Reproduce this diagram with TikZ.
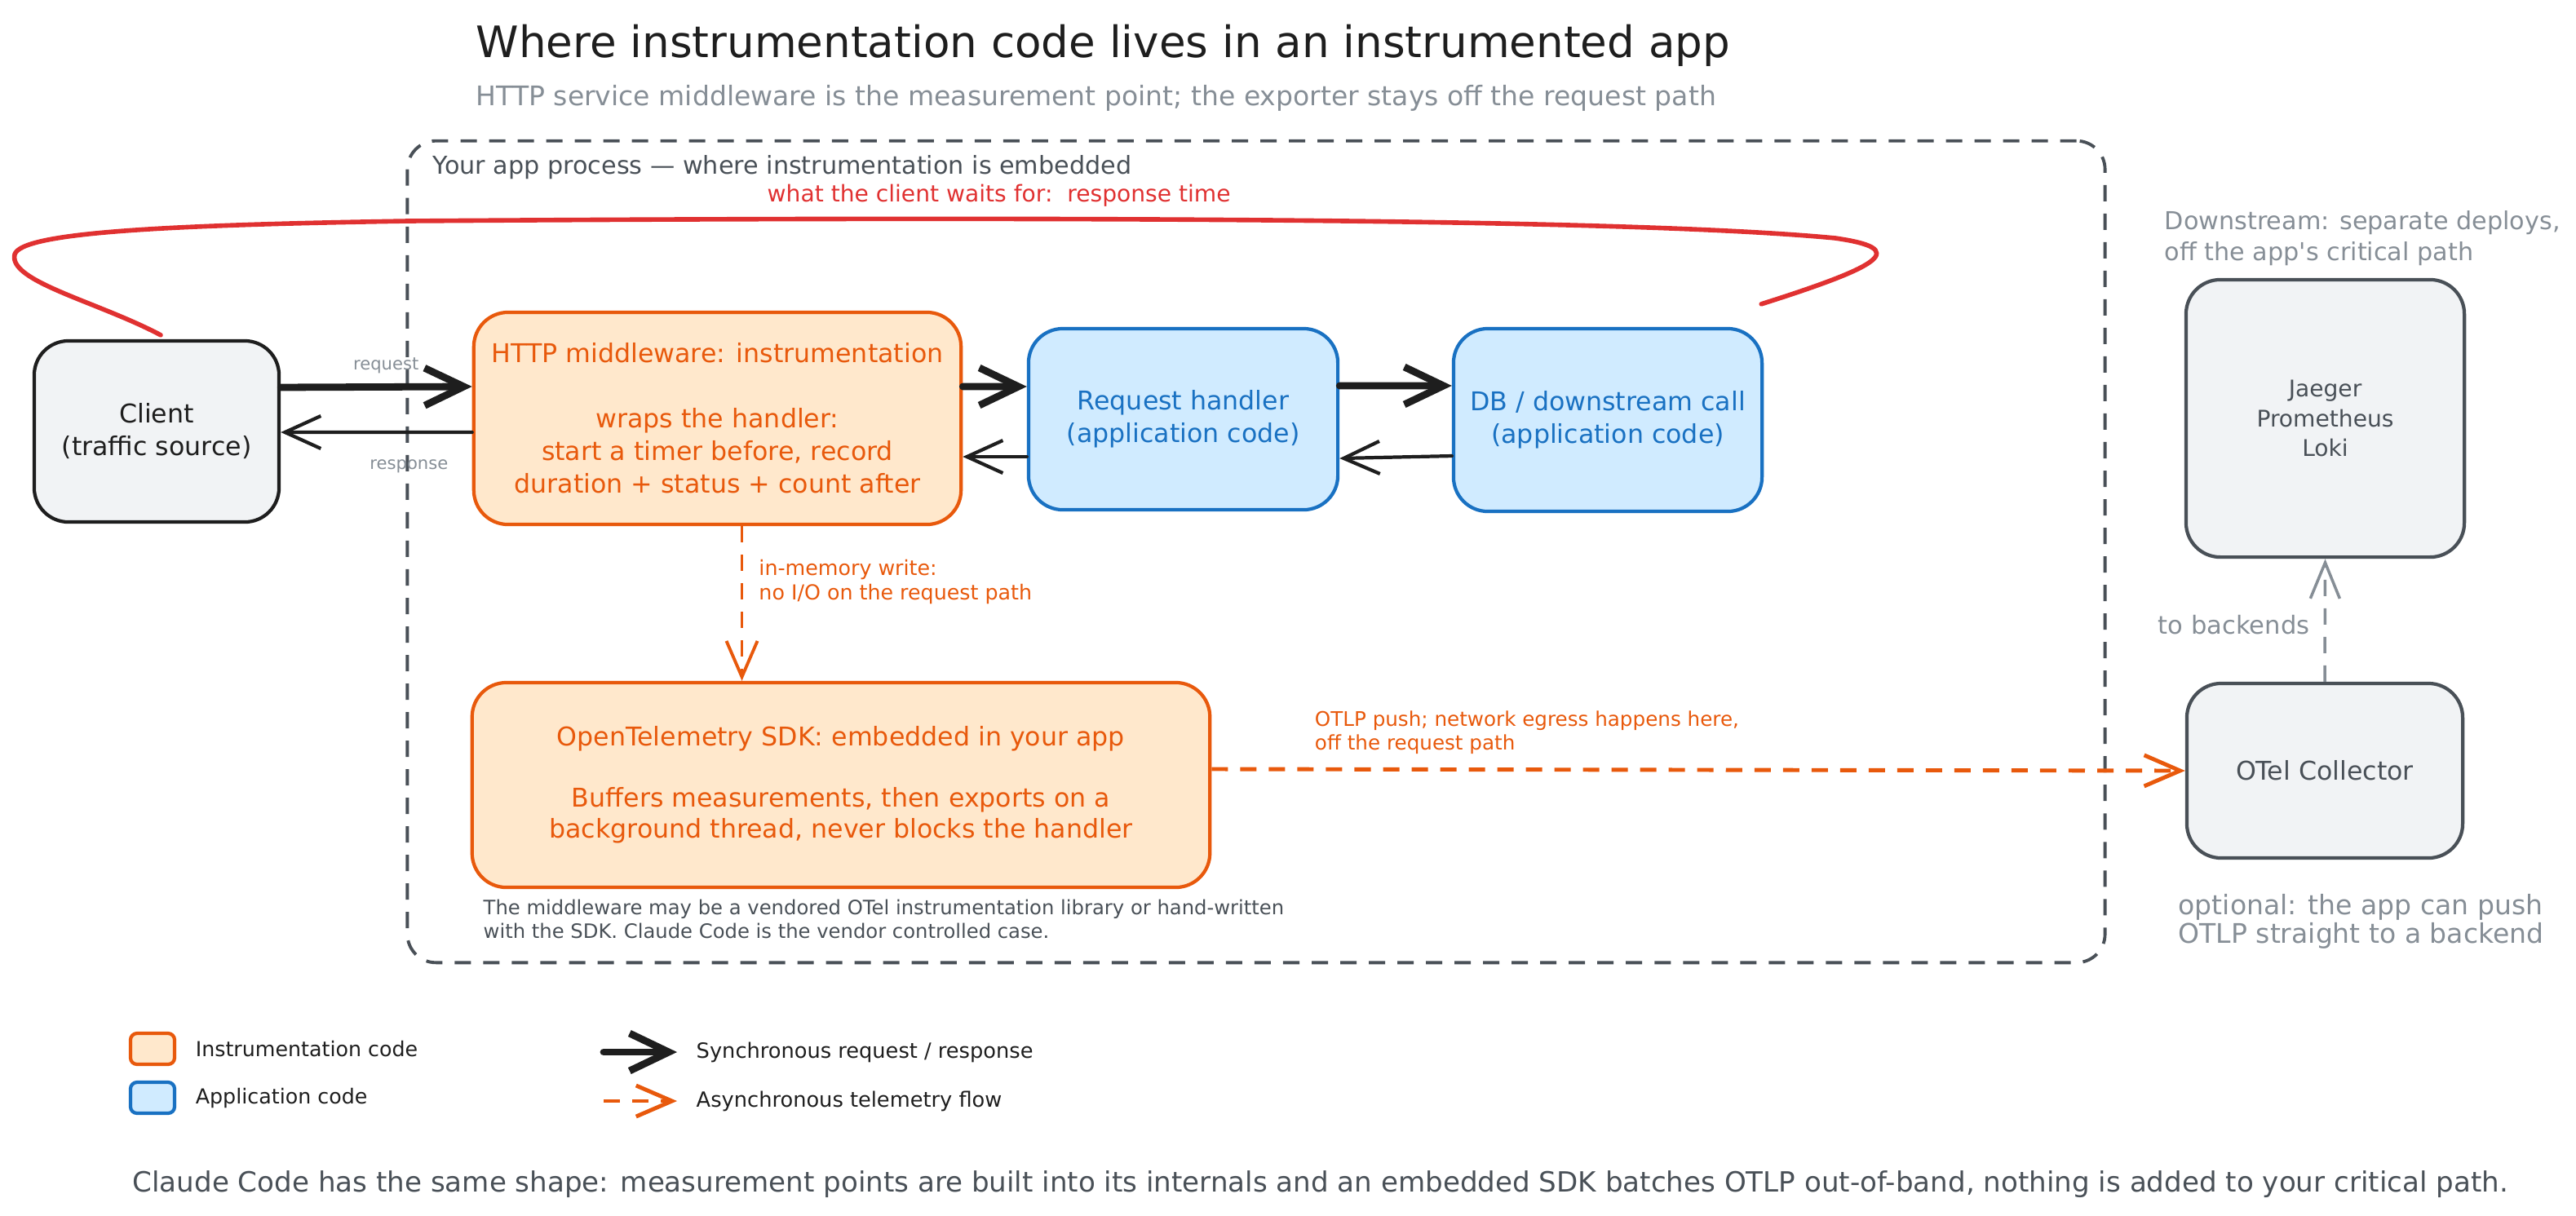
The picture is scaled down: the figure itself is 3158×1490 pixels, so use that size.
\documentclass[tikz,border=0pt]{standalone}
\usepackage{fontspec}
\setmainfont{DejaVu Sans}
\usetikzlibrary{arrows.meta,positioning}
\definecolor{ink}{HTML}{1E1E1E}
\definecolor{slate}{HTML}{495057}
\definecolor{mist}{HTML}{868E96}
\definecolor{paper}{HTML}{F1F3F5}
\definecolor{rust}{HTML}{E8590C}
\definecolor{peach}{HTML}{FFE8CC}
\definecolor{ocean}{HTML}{1971C2}
\definecolor{sky}{HTML}{D0EBFF}
\definecolor{alarm}{HTML}{E03131}
\begin{document}
\begin{tikzpicture}[x=0.01cm, y=-0.01cm, line join=round,
    sized/.style 2 args={font=\fontsize{#1}{#2}\selectfont},
    box/.style={draw, rounded corners=0.42cm, line width=1.2pt, align=center, inner sep=0pt, sized={9}{11.4}},
    instbox/.style={box, draw=rust, fill=peach, text=rust},
    appbox/.style={box, draw=ocean, fill=sky, text=ocean},
    extbox/.style={box, draw=slate, fill=paper, text=slate},
    sync/.style={-{Straight Barb[length=0.48cm, width=0.46cm]}, line width=2.5pt, draw=ink, line cap=round},
    reply/.style={-{Straight Barb[length=0.44cm, width=0.4cm]}, line width=1.2pt, draw=ink, line cap=round},
    async/.style={-{Straight Barb[length=0.44cm, width=0.38cm]}, line width=1.1pt, draw=rust, dash pattern=on 0.2cm off 0.15cm},
    remark/.style={inner sep=0pt, align=left, anchor=west},
    tag/.style={inner sep=0pt, align=left, text=mist, sized={6}{7}}]
  \useasboundingbox (0,0) rectangle (3158,1490);

  \node[remark, sized={15.1}{18}, text=ink] (title) at (583,56) {Where instrumentation code lives in an instrumented app};
  \node[remark, sized={9.4}{11}, text=mist] (subtitle) at (583,120) {HTTP service middleware is the measurement point; the exporter stays off the request path};

  \node[draw=slate, line width=1.1pt, dash pattern=on 0.2cm off 0.15cm, rounded corners=0.35cm,
        minimum width=20.8cm, minimum height=10.07cm, inner sep=0pt] (app) at (1540,676.5) {};
  \node[remark, sized={8.6}{10}, text=slate] (applabel) at (530,205) {Your app process — where instrumentation is embedded};
  \node[remark, sized={8}{9.5}, text=alarm] (waitlabel) at (940,240) {what the client waits for:\ \ response time};

  \node[extbox, draw=ink, text=ink, minimum width=3cm, minimum height=2.22cm] (client) at (192,529) {Client\\(traffic source)};
  \node[instbox, minimum width=5.97cm, minimum height=2.6cm] (mw) at (879.5,513)
    {HTTP middleware: instrumentation\\[0.4cm]wraps the handler:\\start a timer before, record\\duration + status + count after};
  \node[appbox, minimum width=3.79cm, minimum height=2.22cm] (handler) at (1450.5,514) {Request handler\\(application code)};
  \node[appbox, minimum width=3.78cm, minimum height=2.24cm] (db) at (1971,515) {DB / downstream call\\(application code)};
  \node[instbox, sized={9}{10.8}, minimum width=9.04cm, minimum height=2.51cm] (sdk) at (1031,962.5)
    {OpenTelemetry SDK: embedded in your app\\[0.37cm]Buffers measurements, then exports on a\\background thread, never blocks the handler};
  \node[remark, sized={6.9}{8.25}, text=slate] (sdknote) at (592,1127)
    {The middleware may be a vendored OTel instrumentation library or hand-written\\with the SDK. Claude Code is the vendor controlled case.};

  \node[extbox, minimum width=3.38cm, minimum height=2.14cm] (collector) at (2850,945) {OTel Collector};
  \node[extbox, sized={8}{10.5}, minimum width=3.41cm, minimum height=3.4cm] (backends) at (2850.5,513) {Jaeger\\Prometheus\\Loki};
  \node[remark, sized={8.6}{11}, text=mist] (downnote) at (2653,292) {Downstream: separate deploys,\\off the app\textquotesingle s critical path};
  \node[remark, sized={9.4}{10}, text=mist] (optnote) at (2670,1130) {optional: the app can push\\OTLP straight to a backend};

  \begin{scope}
    \draw[sync] ([yshift=0.54cm]client.east) -- ([yshift=0.39cm]mw.west)
      node[tag, pos=0.55, above=0.12cm] (reqtag) {request};
    \draw[reply] ([yshift=-0.17cm]mw.west) -- ([yshift=-0.01cm]client.east)
      node[tag, pos=0.33, below=0.32cm] (resptag) {response};
    \draw[sync] ([yshift=0.39cm]mw.east) -- ([yshift=0.40cm]handler.west);
    \draw[reply] ([yshift=-0.46cm]handler.west) -- ([yshift=-0.47cm]mw.east);
    \draw[sync] ([yshift=0.41cm]handler.east) -- ([yshift=0.42cm]db.west);
    \draw[reply] ([yshift=-0.44cm]db.west) -- ([yshift=-0.48cm]handler.east);
    \draw[async] ([xshift=0.3cm]mw.south) -- ([xshift=0.3cm]mw.south |- sdk.north)
      node[tag, text=rust, sized={7.2}{8.6}, pos=0.36, right=0.19cm] (memtag) {in-memory write:\\no I/O on the request path};
    \draw[async, line width=1.4pt] ([yshift=0.195cm]sdk.east) -- (collector.west)
      node[tag, text=rust, sized={7}{8.25}, pos=0.104, anchor=south west, yshift=0.16cm] (otlptag)
      {OTLP push; network egress happens here,\\off the request path};
    \draw[-{Straight Barb[length=0.44cm, width=0.36cm]}, draw=mist, line width=1pt, dash pattern=on 0.2cm off 0.15cm]
      (collector.north) -- (backends.south)
      node[tag, sized={8.7}{10}, pos=0.46, left=0.17cm] (backtag) {to backends};
    \draw[alarm, line width=1.6pt, line cap=round] ([xshift=0.05cm, yshift=0.05cm]client.north)
      .. controls (120,370) and (10,345) .. (18,312)
      .. controls (26,285) and (200,276) .. (500,271)
      .. controls (1300,265) and (2000,268) .. (2250,292)
      .. controls (2340,305) and (2310,325) .. ([xshift=-0.03cm, yshift=0.28cm]db.north east);
  \end{scope}

  \node[instbox, minimum width=0.54cm, minimum height=0.38cm, rounded corners=0.08cm] (keyinst) at (187,1286) {};
  \node[appbox, minimum width=0.54cm, minimum height=0.38cm, rounded corners=0.08cm] (keyapp) at (187,1346) {};
  \node[right=0.23cm of keyinst, inner sep=0pt, sized={7.2}{8}, text=ink] (keyinsttext) {Instrumentation code};
  \node[right=0.23cm of keyapp, inner sep=0pt, sized={7.2}{8}, text=ink] (keyapptext) {Application code};
  \coordinate (syncfrom) at (740,1290);
  \coordinate (syncto) at (830,1290);
  \coordinate (asyncfrom) at (740,1350);
  \coordinate (asyncto) at (830,1350);
  \draw[sync] (syncfrom) -- (syncto);
  \draw[async, line width=1.4pt] (asyncfrom) -- (asyncto);
  \node[right=0.23cm of syncto, inner sep=0pt, sized={7.3}{8}, text=ink] (synctext) {Synchronous request / response};
  \node[right=0.23cm of asyncto, inner sep=0pt, sized={7.3}{8}, text=ink] (asynctext) {Asynchronous telemetry flow};

  \node[remark, sized={9.7}{11}, text=slate] (footnote) at (162,1452)
    {Claude Code has the same shape: measurement points are built into its internals and an embedded SDK batches OTLP out-of-band, nothing is added to your critical path.};
\end{tikzpicture}
\end{document}
